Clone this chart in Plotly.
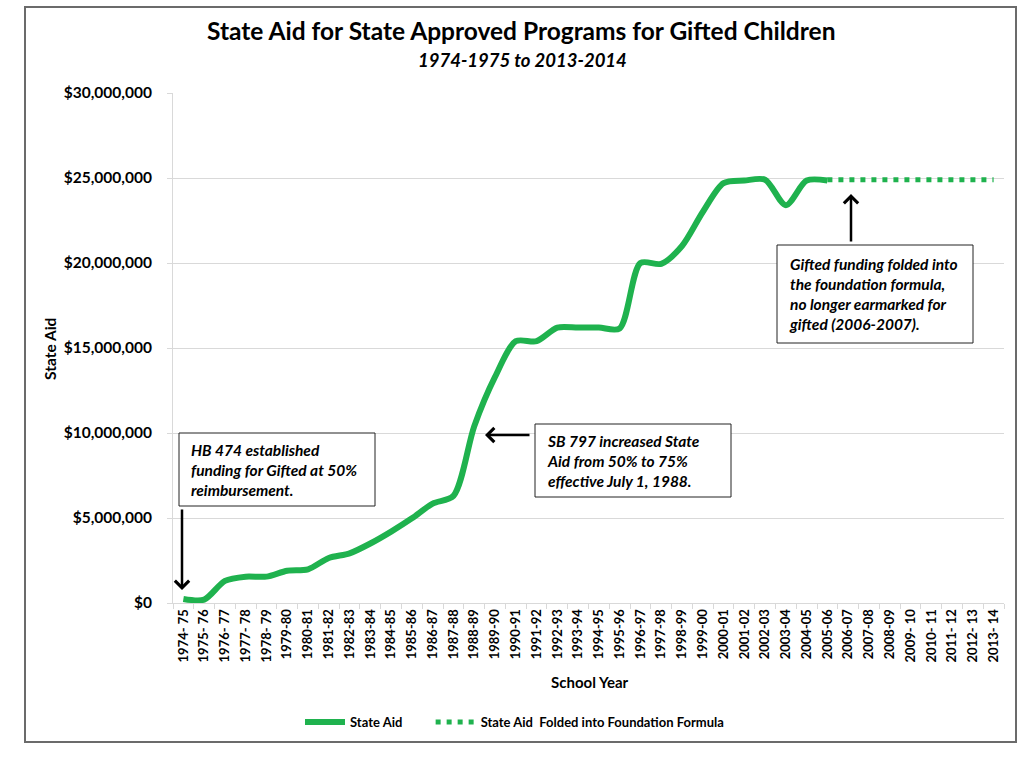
import plotly.graph_objects as go

school_years = ["1974- 75", "1975- 76", "1976- 77", "1977- 78", "1978- 79", "1979-80", "1980-81",
                "1981-82", "1982-83", "1983-84", "1984-85", "1985-86", "1986-87", "1987-88",
                "1988-89", "1989-90", "1990-91", "1991-92", "1992-93", "1993-94", "1994-95",
                "1995-96", "1996-97", "1997-98", "1998-99", "1999-00", "2000-01", "2001-02",
                "2002-03", "2003-04", "2004-05", "2005-06", "2006-07", "2007-08", "2008-09",
                "2009- 10", "2010- 11", "2011- 12", "2012- 13", "2013- 14"]

state_aid_years = school_years[:32]
state_aid = [240000, 200000, 1300000, 1550000, 1550000, 1900000, 1980000, 2650000, 2920000,
             3500000, 4200000, 4980000, 5850000, 6300000, 10400000, 13300000, 15400000,
             15400000, 16200000, 16200000, 16200000, 16150000, 20000000, 19950000, 21000000,
             23000000, 24700000, 24850000, 24900000, 23400000, 24850000, 24850000]

folded_years = school_years[31:]
folded_aid = [24900000] * len(folded_years)

y_ticks = [0, 5000000, 10000000, 15000000, 20000000, 25000000, 30000000]
y_tick_labels = ["$0", "$5,000,000", "$10,000,000", "$15,000,000", "$20,000,000",
                 "$25,000,000", "$30,000,000"]

NBSP = "\u00a0"
GREEN = "#1fb24e"
FONT = "Lato"
L, R, T, B = 173, 1004, 93, 603


def px(x):
    return (x - L) / (R - L)


def py(y):
    return (B - y) / (B - T)


fig = go.Figure()
fig.add_trace(go.Scatter(
    x=state_aid_years, y=state_aid, mode="lines", name="<b>State Aid</b>" + NBSP * 7,
    line=dict(color=GREEN, width=6, shape="spline", smoothing=0.8),
))
fig.add_trace(go.Scatter(
    x=folded_years, y=folded_aid, mode="lines",
    name="<b>State Aid" + NBSP + " Folded into Foundation Formula</b>",
    line=dict(color=GREEN, width=5, dash="5px,6px"),
))

annotations = []
shapes = []
annotations.append(dict(text="<b>State Aid for State Approved Programs for Gifted Children</b>",
                        x=px(521), y=py(31), xref="paper", yref="paper", showarrow=False,
                        font=dict(family=FONT, size=24.5, color="#000"), xanchor="center", yanchor="middle"))
annotations.append(dict(text="<b><i>1974-1975 to 2013-2014</i></b>",
                        x=px(522), y=py(60), xref="paper", yref="paper", showarrow=False,
                        font=dict(family=FONT, size=18.5, color="#000"), xanchor="center", yanchor="middle"))
annotations.append(dict(text="<b>School Year</b>", x=px(590), y=py(682), xref="paper", yref="paper",
                        showarrow=False, font=dict(family=FONT, size=15, color="#000"),
                        xanchor="center", yanchor="middle"))
annotations.append(dict(text="<b>State Aid</b>", x=px(50), y=py(349), xref="paper", yref="paper",
                        showarrow=False, textangle=-90, font=dict(family=FONT, size=15.5, color="#000"),
                        xanchor="center", yanchor="middle"))

box_font = dict(family=FONT, size=15.5, color="#000")


def add_box(text, left, top, width, height):
    shapes.append(dict(type="rect", xref="paper", yref="paper", x0=px(left), x1=px(left + width),
                       y0=py(top + height), y1=py(top), fillcolor="white",
                       line=dict(color="#222", width=1), layer="above"))
    annotations.append(dict(text=text, x=px(left + 10), y=py(top + height / 2), xref="paper", yref="paper",
                            showarrow=False, xanchor="left", yanchor="middle", align="left",
                            font=box_font))


add_box("<b><i>HB 474 established<br>funding for Gifted at 50%<br>reimbursement.</i></b>", 179, 433, 196, 73)
add_box("<b><i>SB 797 increased State<br>Aid from 50% to 75%<br>effective July 1, 1988.</i></b>", 535, 424, 196, 73)
add_box("<b><i>Gifted funding folded into<br>the foundation formula,<br>no longer earmarked for<br>gifted (2006-2007).</i></b>",
        777, 245, 196, 98)


def add_arrow(tip_x, tip_y, tail_x, tail_y):
    annotations.append(dict(text="", x=px(tip_x), y=py(tip_y), xref="paper", yref="paper",
                            ax=tail_x - tip_x, ay=tail_y - tip_y, showarrow=True, arrowhead=4,
                            arrowsize=1.1, arrowwidth=2.5, arrowcolor="#000", standoff=0))


add_arrow(182, 590, 182, 508)
add_arrow(485, 435, 531, 435)
add_arrow(851, 194, 851, 243)

shapes.append(dict(type="rect", xref="paper", yref="paper", x0=px(25), x1=px(1016), y0=py(742), y1=py(7),
                   line=dict(color="#6b6b6b", width=2), layer="below"))

fig.update_layout(
    width=1024, height=768,
    margin=dict(l=L, r=1024 - R, t=T, b=768 - B, pad=0),
    paper_bgcolor="white", plot_bgcolor="white",
    font=dict(family=FONT, color="#000"),
    showlegend=True,
    legend=dict(orientation="h", x=px(300), y=py(722), xanchor="left", yanchor="middle",
                font=dict(family=FONT, size=13), itemwidth=40, traceorder="normal",
                bgcolor="rgba(0,0,0,0)"),
    annotations=annotations,
    shapes=shapes,
    xaxis=dict(type="category", categoryorder="array", categoryarray=school_years,
               range=[-0.5, len(school_years) - 0.5], tickangle=-90, showgrid=False,
               tickson="boundaries", ticks="outside", ticklen=5, tickcolor="#d9d9d9",
               showline=True, linecolor="#d9d9d9", linewidth=1,
               tickfont=dict(family=FONT, size=13, color="#000"),
               tickvals=school_years, ticktext=[f"<b>{s}</b>" for s in school_years]),
    yaxis=dict(range=[0, 30000000], tickvals=y_ticks, ticktext=[f"<b>{t}</b>" for t in y_tick_labels],
               showgrid=True, gridcolor="#d9d9d9", gridwidth=1, ticks="outside", ticklen=5,
               tickcolor="#d9d9d9", showline=True, linecolor="#d9d9d9", linewidth=1,
               zeroline=False, ticklabelstandoff=12,
               tickfont=dict(family=FONT, size=15.5, color="#000")),
)

fig.write_html("out.html", config={"displayModeBar": False},
               post_script="document.body.style.margin='0';")
